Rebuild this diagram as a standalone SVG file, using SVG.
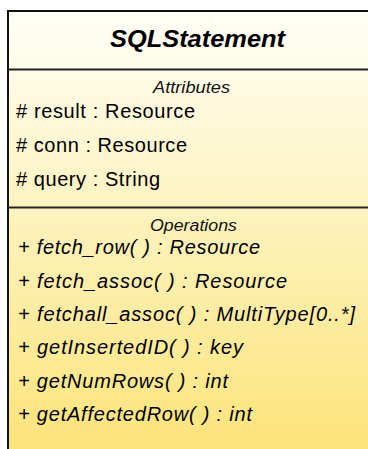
<svg xmlns="http://www.w3.org/2000/svg" width="368" height="449" viewBox="0 0 368 449">
  <defs>
    <linearGradient id="classFill" gradientUnits="userSpaceOnUse" x1="0" y1="11" x2="0" y2="449">
      <stop offset="0" stop-color="#FFFFF8"/>
      <stop offset="1" stop-color="#FCE47A"/>
    </linearGradient>
  </defs>
  <style>
    .box { fill: url(#classFill); stroke: #111; stroke-width: 2; }
    .div { stroke: #222; stroke-width: 2; }
    .title { font-family: "Liberation Sans", Arial, sans-serif; font-size: 23px; font-weight: bold; font-style: italic; fill: #000; }
    .sect { font-family: "Liberation Sans", Arial, sans-serif; font-size: 16px; font-style: italic; fill: #111; }
    .attr { font-family: "Liberation Sans", Arial, sans-serif; font-size: 20px; fill: #000; }
    .op { font-family: "Liberation Sans", Arial, sans-serif; font-size: 20px; font-style: italic; fill: #000; }
  </style>
  <g id="SQLStatement">
    <rect class="box" x="8" y="11" width="380" height="460"/>
    <line class="div" x1="8" y1="69.5" x2="390" y2="69.5"/>
    <line class="div" x1="8" y1="207.5" x2="390" y2="207.5"/>
    <text class="title" x="110" y="47" textLength="175" lengthAdjust="spacingAndGlyphs">SQLStatement</text>
    <text class="sect" x="153" y="93" textLength="77" lengthAdjust="spacingAndGlyphs">Attributes</text>
    <text class="attr" x="16" y="118" textLength="179" lengthAdjust="spacing"># result : Resource</text>
    <text class="attr" x="16" y="152" textLength="171" lengthAdjust="spacing"># conn : Resource</text>
    <text class="attr" x="16" y="186" textLength="144" lengthAdjust="spacing"># query : String</text>
    <text class="sect" x="150" y="231" textLength="87" lengthAdjust="spacingAndGlyphs">Operations</text>
    <text class="op" x="18" y="254" textLength="242" lengthAdjust="spacing">+ fetch_row( ) : Resource</text>
    <text class="op" x="18" y="287.5" textLength="269" lengthAdjust="spacing">+ fetch_assoc( ) : Resource</text>
    <text class="op" x="18" y="321" textLength="337" lengthAdjust="spacing">+ fetchall_assoc( ) : MultiType[0..*]</text>
    <text class="op" x="18" y="354" textLength="225" lengthAdjust="spacing">+ getInsertedID( ) : key</text>
    <text class="op" x="18" y="387.5" textLength="210" lengthAdjust="spacing">+ getNumRows( ) : int</text>
    <text class="op" x="18" y="421" textLength="234" lengthAdjust="spacing">+ getAffectedRow( ) : int</text>
  </g>
  <g id="connectors"/>
</svg>
